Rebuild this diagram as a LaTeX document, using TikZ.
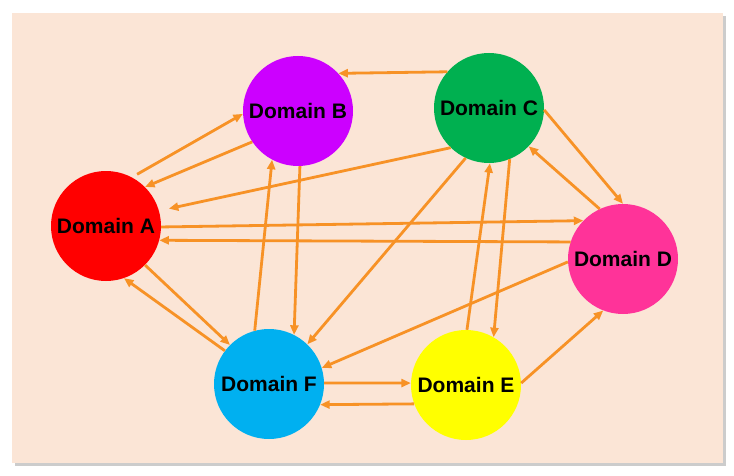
\documentclass[tikz,border=0pt]{standalone}
\usepackage{fontspec}
\setmainfont{Liberation Sans}
\usepackage{tikz}
\usetikzlibrary{arrows.meta}
\usetikzlibrary{shadows}
\definecolor{paper}{RGB}{251,229,214}
\definecolor{linkorange}{RGB}{247,146,38}
\definecolor{domA}{RGB}{255,0,0}
\definecolor{domB}{RGB}{204,0,255}
\definecolor{domC}{RGB}{0,176,80}
\definecolor{domD}{RGB}{255,51,153}
\definecolor{domE}{RGB}{255,255,0}
\definecolor{domF}{RGB}{0,176,240}
\tikzset{>={Triangle[width=8pt,length=9.5pt]}}
\tikzset{domainnode/.style={circle, minimum size=110pt, inner sep=0pt,
    font=\fontsize{21}{23}\selectfont\bfseries},
  link/.style={->, linkorange, line width=2.8pt}}

\begin{document}
\begin{tikzpicture}[x=1pt,y=1pt]
  \useasboundingbox (0,0) rectangle (734,475);
  % Draw the sheet
  \fill[paper, drop shadow={shadow xshift=3pt, shadow yshift=-3pt,
      fill=black!40, opacity=.5}] (12,12) rectangle (723,462);
  % Draw domains
  \node[domainnode, fill=domA] (a) at (106,249) {Domain A};
  \node[domainnode, fill=domB] (b) at (298,364) {Domain B};
  \node[domainnode, fill=domC] (c) at (489,367) {Domain C};
  \node[domainnode, fill=domD] (d) at (623,216) {Domain D};
  \node[domainnode, fill=domE] (e) at (466,90) {Domain E};
  \node[domainnode, fill=domF] (f) at (269,91) {Domain F};
  % Draw links between domains
  \draw[link, shorten <=6pt] (a.62) -- (b.183);
  \draw[link] (b.214) -- (a.45);
  \draw[link, shorten >=10pt] (c.226) -- (a.16);
  \draw[link] (a.359) -- (d.136);
  \draw[link] (d.162) -- (a.345);
  \draw[link] (a.315) -- (f.135);
  \draw[link] (f.143) -- (a.289);
  \draw[link] (c.139) -- (b.43);
  \draw[link] (b.272) -- (f.63);
  \draw[link] (f.105) -- (b.242);
  \draw[link] (c.245) -- (f.46);
  \draw[link] (c.358) -- (d.90);
  \draw[link] (d.115) -- (c.316);
  \draw[link] (e.89) -- (c.271);
  \draw[link] (c.292) -- (e.60);
  \draw[link] (d.183) -- (f.17);
  \draw[link] (f.1) -- (e.178);
  \draw[link] (e.200) -- (f.338);
  \draw[link] (e.2) -- (d.249);
\end{tikzpicture}
\end{document}
